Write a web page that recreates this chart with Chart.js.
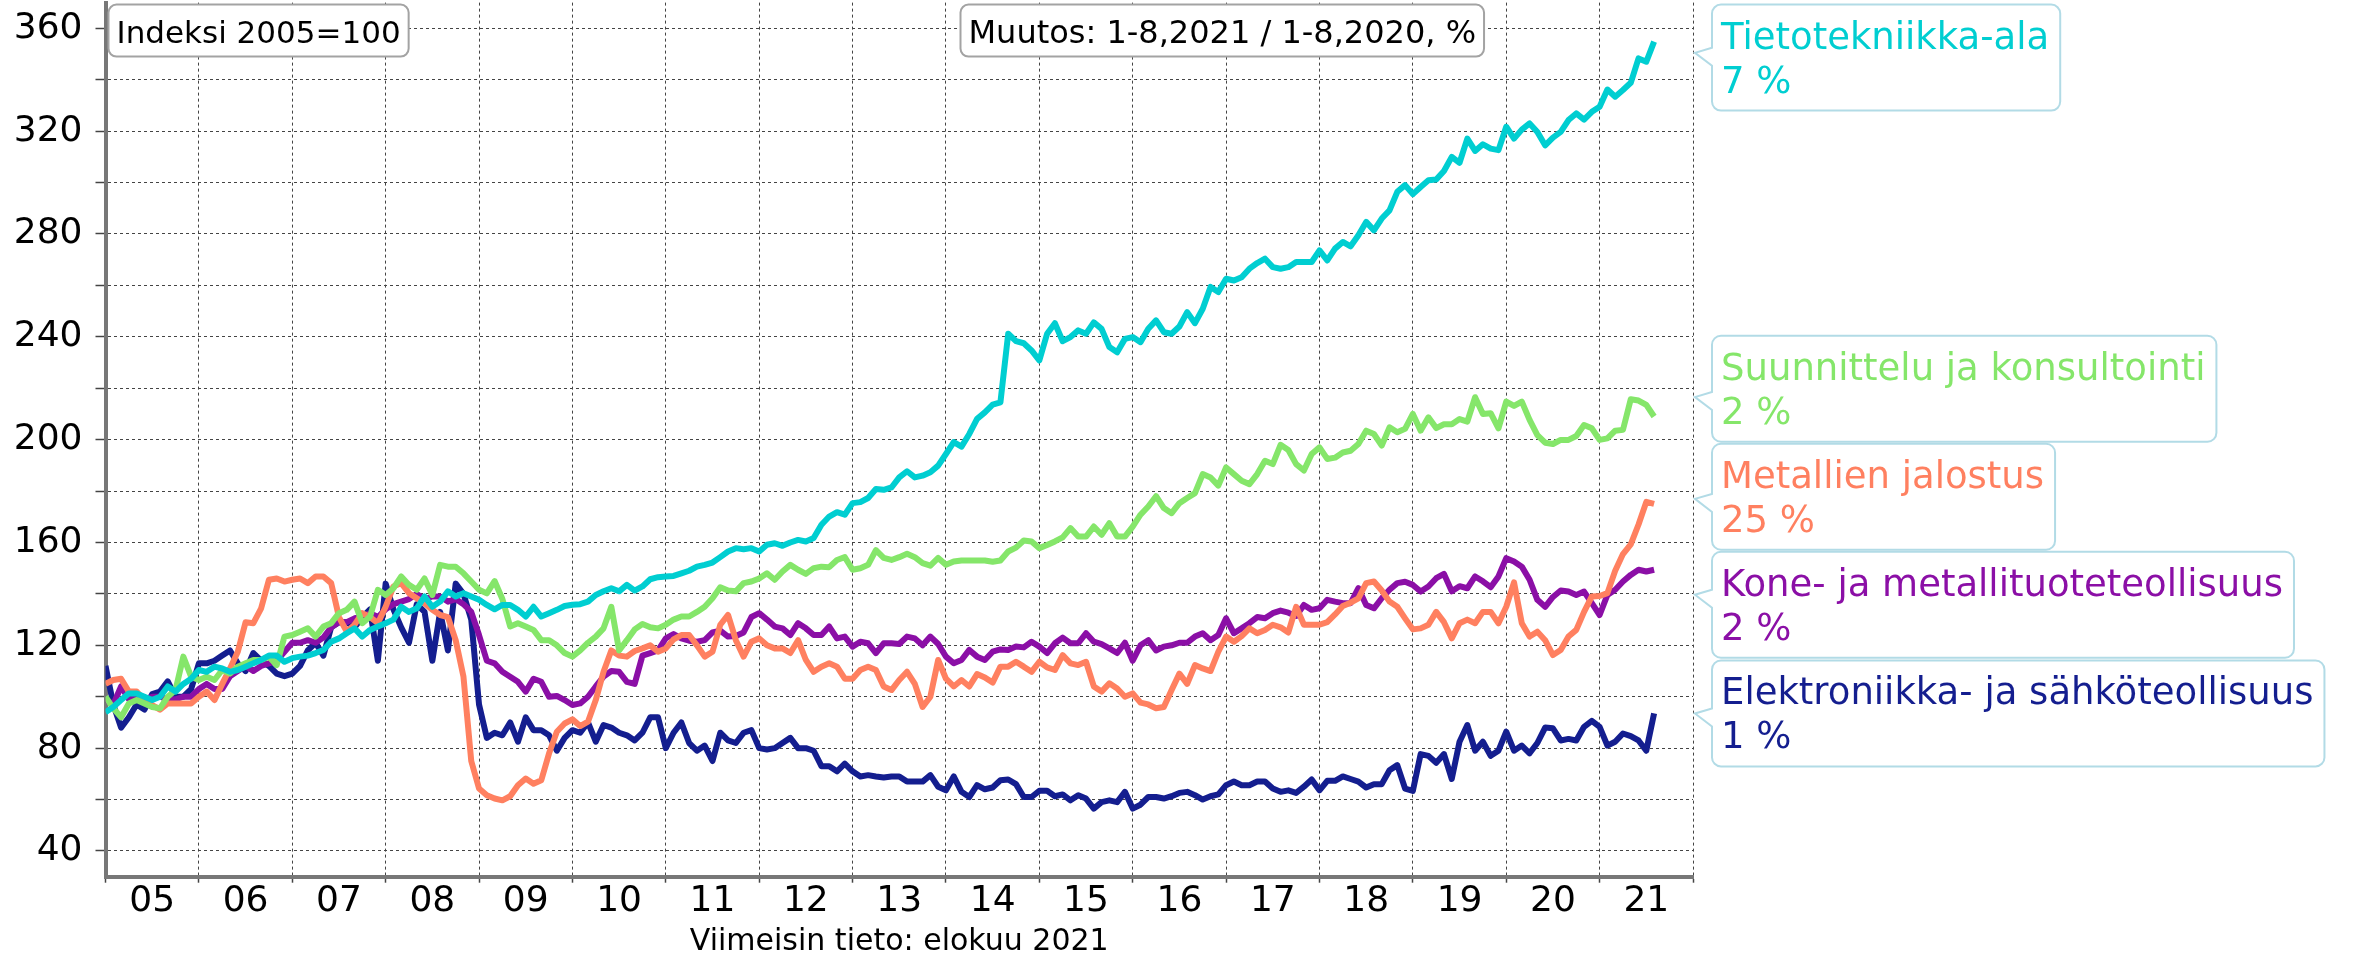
<!DOCTYPE html>
<html>
<head>
<meta charset="utf-8">
<title>Indeksi 2005=100</title>
<script src="https://cdn.jsdelivr.net/npm/chart.js@4.4.1/dist/chart.umd.min.js"></script>
<style>
    html, body { margin: 0; padding: 0; background: #fff; }
    canvas { display: block; }
</style>
</head>
<body>
<canvas id="indexChart" width="2356" height="957"></canvas>
<script>
const yearLabels = ["05", "06", "07", "08", "09", "10", "11", "12", "13", "14", "15", "16", "17", "18", "19", "20", "21"];
const seriesNames = [
    "Tietotekniikka-ala",
    "Suunnittelu ja konsultointi",
    "Metallien jalostus",
    "Kone- ja metallituoteteollisuus",
    "Elektroniikka- ja sähköteollisuus"
];
const seriesChanges = ["7 %", "2 %", "25 %", "2 %", "1 %"];
const indexNote = "Indeksi 2005=100";
const changeNote = "Muutos: 1-8,2021 / 1-8,2020, %";
const latestNote = "Viimeisin tieto: elokuu 2021";

// monthly values, Jan 2005 - Aug 2021
const tietotekniikka = [
    94, 96, 98.7, 101.3, 101.3, 100, 98.7, 100, 104, 102, 105, 107,
    110.4, 109.7, 111.7, 111, 109.7, 110.4, 111.7, 113, 114.3, 116, 116, 113.6,
    115, 115.6, 116, 117, 118.2, 121.4, 122.7, 124.7, 126.6, 123.4, 126, 127.3,
    128.6, 130, 135, 133, 134.4, 139, 135, 137, 141, 139, 140.3, 139,
    137.7, 135.7, 134, 135.7, 135.7, 133.8, 131.2, 135, 131.2, 132.5, 133.8, 135.3,
    135.8, 136, 137, 139.6, 141, 142.2, 141, 143.5, 141.3, 142.9, 145.7, 146.5,
    146.8, 147, 148, 149, 150.6, 151.3, 152.2, 154.3, 156.5, 157.8, 157.4, 157.8,
    156.5, 159.1, 159.7, 158.7, 160, 161, 160.4, 161.7, 166.9, 170.1, 171.8, 170.8,
    175.3, 175.7, 177.3, 180.8, 180.5, 181.4, 185.3, 187.7, 185.3, 186, 187.3, 189.9,
    194.4, 199, 197.3, 202.2, 208.1, 210.6, 213.6, 214.5, 241.2, 238.3, 237.5, 234.7,
    230.8, 241.2, 245.3, 238.3, 239.9, 242.5, 241.2, 245.6, 243.1, 236, 234, 239.2,
    239.9, 237.9, 243.1, 246.4, 241.8, 241.2, 244, 249.6, 245.3, 250.9, 259.4, 257.4,
    262.6, 261.9, 263.2, 266.5, 268.7, 270.4, 267.1, 266.5, 267.1, 269.1, 269.1, 269.1,
    273.6, 269.7, 274.3, 276.9, 275.2, 279.5, 284.7, 281.4, 286, 289.2, 296.4, 299,
    295.5, 298.3, 300.9, 301.2, 304.5, 310, 307.7, 317.1, 312.3, 314.9, 313.2, 312.6,
    321.7, 317.1, 320.6, 323, 319.7, 314.5, 317.5, 319.7, 324.3, 326.9, 324.5, 327.5,
    329.5, 336.2, 333.4, 336, 338.8, 348.3, 347, 354.8
];
const suunnittelu = [
    100, 95.5, 92, 97.4, 98.7, 97.4, 96, 95.5, 100, 102.6, 115.6, 107.8,
    106.5, 107.8, 106.5, 110.4, 109, 111.7, 113, 114.3, 114.3, 115.6, 112.3, 123.4,
    124, 125.3, 126.6, 123.4, 127.3, 128.6, 132.5, 133.8, 137, 128.6, 131.2, 141.6,
    139.6, 142.2, 146.8, 143.5, 141.6, 146, 139.6, 151.3, 150.6, 150.6, 148, 144.8,
    141.6, 140.2, 145, 138, 127.3, 128.6, 127.3, 126, 122, 122, 120, 117,
    115.6, 118, 121, 123.4, 126.6, 135, 118, 122, 126.2, 128.3, 127, 126.6,
    128, 130, 131.2, 131.2, 133, 135, 138.3, 142.6, 141.3, 141, 144.2, 144.8,
    146, 148, 145.5, 148.7, 151.3, 149.4, 147.8, 150, 150.6, 150.4, 153.2, 154.3,
    149.4, 150, 151.3, 157, 154, 153.2, 154.3, 155.6, 154.3, 152, 151, 154,
    151.3, 152.6, 153, 153, 153, 153, 152.5, 153, 156.5, 158, 160.8, 160.4,
    157.8, 159, 160.4, 162, 165.6, 162.3, 162.3, 166.2, 163, 167.5, 162.3, 162.3,
    166.2, 170.8, 174, 178, 173.4, 171.4, 175.3, 177.3, 179.2, 186.6, 185.3, 182.1,
    189.2, 186.6, 184, 182.7, 186.6, 191.8, 190.5, 198, 196, 190.5, 188, 194.4,
    197, 192.5, 193, 195, 195.7, 198.3, 203.5, 202.2, 197.7, 204.8, 202.9, 204.2,
    210, 203.5, 208.7, 204.5, 206, 206, 208, 207, 216.5, 210, 210.3, 204.4,
    214.8, 213.1, 214.8, 207.7, 201.8, 198.8, 198.3, 199.9, 199.9, 201.4, 205.7, 204.4,
    199.9, 200.5, 203.5, 203.8, 215.7, 215.2, 213.5, 209
];
const metallienJalostus = [
    105, 106.5, 107, 102, 102, 98.7, 96.8, 95, 97.4, 97.4, 97.4, 97.4,
    100, 102, 98.7, 105, 111, 117.5, 129, 128.6, 134.4, 145.5, 146, 144.8,
    145.5, 146, 144.2, 146.8, 146.8, 144.2, 131, 125.3, 128, 132.5, 131, 128.6,
    135, 142.9, 144.2, 140.3, 138.3, 136.4, 133.8, 131.8, 131, 122, 107.8, 75,
    64.3, 61.7, 60.4, 59.7, 61.3, 65.6, 68.2, 66.2, 67.5, 78, 86.4, 89.6,
    91.2, 88.6, 90.3, 98.7, 109.7, 118, 116, 115.6, 117.8, 118.8, 120, 117.5,
    118.8, 122.3, 124, 124, 120, 115.6, 117.5, 128, 131.8, 122, 115.6, 121.4,
    122.7, 120, 118.8, 118.8, 117, 122, 114.3, 109.7, 111.7, 113, 111.7, 107,
    107, 110.4, 111.7, 110.4, 104, 102.6, 106.5, 109.7, 105, 96, 100, 114.3,
    107, 104, 106.5, 104, 108.8, 107.5, 105.5, 111.7, 111.7, 113.6, 111.7, 109.7,
    113.6, 111.4, 110.4, 116.2, 113, 112.3, 113.6, 104, 102, 105.2, 103.2, 100,
    101.3, 97.7, 97, 95.5, 96, 102.6, 109, 105, 112.3, 111, 110, 117.5,
    123.4, 121.4, 123.6, 126.6, 124.7, 126, 128, 127, 125, 135, 128, 128,
    128, 129, 132, 135.3, 136.6, 138.3, 144.2, 144.8, 141.3, 137, 135, 130.5,
    126.2, 126.6, 128, 133, 129, 122.7, 128.6, 130, 128.6, 133, 133, 128.6,
    135, 144.5, 128.6, 123.4, 125.3, 122, 116.2, 118.2, 123.4, 126, 133, 139,
    139.2, 140.3, 149, 155.5, 159.3, 167, 175.8, 175
];
const koneJaMetalli = [
    99, 97, 104, 99, 100, 99, 100, 100, 99, 99, 100, 100,
    103, 105, 103, 103, 108, 110, 112, 110, 112, 113, 114, 117.5,
    121, 121, 122, 121, 123, 127, 129, 129, 130.5, 131, 132.5, 131,
    134, 136, 137, 138, 140, 138, 139, 139, 137, 138, 136, 133,
    124, 114, 113, 109.7, 107.8, 105.8, 102, 107, 105.8, 100, 100.3, 98.7,
    96.8, 97.4, 100, 104, 107.8, 110, 109.7, 105.8, 105, 116, 117, 118,
    122.7, 124.4, 122.7, 121.8, 121.4, 122, 125, 125.7, 123.4, 123.6, 125, 131,
    132.5, 130, 127.3, 126.6, 124, 128.6, 126.6, 124, 124, 127.3, 122.7, 123.4,
    119.5, 121.4, 120.8, 117, 120.8, 120.8, 120.5, 123.4, 122.7, 120, 123.4, 120.5,
    115.6, 113, 114.3, 118.2, 115.6, 114.3, 117.5, 118.4, 118.2, 119.5, 119.2, 121.4,
    119.5, 117, 120.8, 123, 120.8, 120.8, 124.7, 121.4, 120.5, 118.8, 117, 121,
    114, 120, 122, 118, 119.5, 120, 121, 121, 123.4, 124.7, 122, 124,
    130.5, 124.7, 126.6, 128.6, 131, 130.5, 132.5, 133.5, 132.7, 131.4, 135.7, 133.8,
    134.4, 137.7, 137, 136.4, 136.4, 142.2, 135.7, 134.4, 138.3, 141.6, 144.2, 144.7,
    143.5, 140.9, 142.9, 146.1, 147.8, 141, 143, 142.2, 146.8, 144.9, 142.6, 146.8,
    153.9, 152.6, 150.6, 145.5, 137.7, 135, 138.8, 141.3, 140.9, 139.6, 140.9, 136.4,
    131.8, 139.6, 141.6, 144.8, 147.4, 149.4, 148.7, 149.4
];
const elektroniikka = [
    112, 97, 88, 92, 97, 95, 101, 102, 106, 100, 100, 103,
    113, 113, 114, 116, 118, 113, 110, 117, 114, 112, 109, 108,
    109, 112, 118, 121, 116, 127, 129, 129, 127, 131, 134, 114,
    144, 134, 127, 121, 136, 133, 114, 133, 118, 144, 140, 130,
    97, 84, 86, 85, 90, 82.5, 92, 87, 87, 85, 79, 84,
    87, 86, 90, 82.5, 89, 88, 86, 85, 83, 86, 92, 92,
    80, 86, 90, 82, 79, 81, 75, 86, 83, 82, 86, 87,
    80, 79.5, 80, 82, 84, 80, 80, 79, 73, 73, 71, 74,
    71, 69, 69.5, 69, 68.6, 69, 69, 67, 67, 67, 69.5, 65,
    63.6, 69, 63, 61, 65.6, 64, 64.7, 67.5, 67.8, 66, 61, 61,
    63.4, 63.4, 61.3, 62, 59.7, 61.7, 60.4, 56.5, 59, 59.7, 59, 63,
    56.5, 58, 61, 61, 60.4, 61.3, 62.6, 63, 61.7, 60, 61.3, 62,
    65.6, 67, 65.6, 65.6, 67, 67, 64.3, 63, 63.6, 62.6, 65, 67.8,
    63.6, 67.3, 67.3, 69, 68, 67, 64.7, 66, 66, 71.4, 73.4, 64.3,
    63.4, 77.7, 77, 74.3, 77.7, 68, 82.5, 89, 79, 82.5, 77, 79,
    86.4, 79, 81, 78, 82, 88, 87.7, 83, 83.6, 83, 88.3, 90.6,
    88.3, 81, 82.5, 85.7, 84.7, 83, 79, 93.5
];

const seriesValues = [tietotekniikka, suunnittelu, metallienJalostus, koneJaMetalli, elektroniikka];
const seriesColors = ["#00CED1", "#85E66A", "#FF8060", "#8B0FA6", "#141E8F"];

const FONT = '"DejaVu Sans", Verdana, sans-serif';
Chart.defaults.font.family = FONT;
Chart.defaults.color = "#000";

function boxPath(ctx, x, y, w, h, r) {
    ctx.beginPath();
    ctx.moveTo(x + r, y);
    ctx.lineTo(x + w - r, y);
    ctx.arcTo(x + w, y, x + w, y + r, r);
    ctx.lineTo(x + w, y + h - r);
    ctx.arcTo(x + w, y + h, x + w - r, y + h, r);
    ctx.lineTo(x + r, y + h);
    ctx.arcTo(x, y + h, x, y + h - r, r);
    ctx.lineTo(x, y + r);
    ctx.arcTo(x, y, x + r, y, r);
    ctx.closePath();
}

function drawNote(ctx, text, left, top, size) {
    ctx.font = `${size}px ${FONT}`;
    const w = ctx.measureText(text).width + 16;
    boxPath(ctx, left, top, w, 52, 8);
    ctx.fillStyle = "#fff";
    ctx.fill();
    ctx.lineWidth = 2;
    ctx.strokeStyle = "#a3a3a3";
    ctx.stroke();
    ctx.fillStyle = "#000";
    ctx.textBaseline = "alphabetic";
    ctx.textAlign = "left";
    ctx.fillText(text, left + 8, top + 38);
}

// places the series labels next to the last values, pushing overlapping ones apart
function layoutCallouts(targets, boxH, pitch, minTop) {
    let clusters = targets
        .map((t, i) => ({ idx: [i], sum: t }))
        .sort((a, b) => a.sum - b.sum);
    const topOf = c => c.sum / c.idx.length - (c.idx.length - 1) * pitch / 2 - boxH / 2;
    let merged = true;
    while (merged) {
        merged = false;
        for (let k = 0; k < clusters.length - 1; k++) {
            const a = clusters[k], b = clusters[k + 1];
            const aBottom = Math.max(topOf(a), minTop) + (a.idx.length - 1) * pitch + boxH;
            if (aBottom + (pitch - boxH) > topOf(b)) {
                a.idx = a.idx.concat(b.idx);
                a.sum += b.sum;
                clusters.splice(k + 1, 1);
                merged = true;
                break;
            }
        }
    }
    const tops = [];
    for (const c of clusters) {
        const t0 = Math.max(topOf(c), minTop);
        c.idx.forEach((i, n) => { tops[i] = t0 + n * pitch; });
    }
    return tops;
}

const calloutPlugin = {
    id: "callouts",
    afterDraw(chart) {
        const ctx = chart.ctx;
        const area = chart.chartArea;
        const yScale = chart.scales.y;
        ctx.save();

        drawNote(ctx, indexNote, area.left + 3, area.top + 2, 31);
        drawNote(ctx, changeNote, area.left + 855, area.top + 2, 32);

        const boxH = 106, pitch = 108;
        const targets = seriesValues.map(v => yScale.getPixelForValue(v[v.length - 1]));
        const tops = layoutCallouts(targets, boxH, pitch, area.top + 2);
        const left = area.right + 19;

        seriesNames.forEach((name, i) => {
            const top = tops[i];
            ctx.font = `37px ${FONT}`;
            const w = Math.max(ctx.measureText(name).width, ctx.measureText(seriesChanges[i]).width) + 20;
            const center = top + boxH / 2;
            const py = center + Math.max(-10, Math.min(10, (targets[i] - center) * 0.3));
            const r = 9;
            ctx.beginPath();
            ctx.moveTo(left + r, top);
            ctx.lineTo(left + w - r, top);
            ctx.arcTo(left + w, top, left + w, top + r, r);
            ctx.lineTo(left + w, top + boxH - r);
            ctx.arcTo(left + w, top + boxH, left + w - r, top + boxH, r);
            ctx.lineTo(left + r, top + boxH);
            ctx.arcTo(left, top + boxH, left, top + boxH - r, r);
            ctx.lineTo(left, py + 13);
            ctx.lineTo(area.right + 2, py);
            ctx.lineTo(left, py - 5);
            ctx.lineTo(left, top + r);
            ctx.arcTo(left, top, left + r, top, r);
            ctx.closePath();
            ctx.fillStyle = "#fff";
            ctx.fill();
            ctx.lineWidth = 2;
            ctx.strokeStyle = "#b2dbe6";
            ctx.stroke();

            ctx.fillStyle = seriesColors[i];
            ctx.textAlign = "left";
            ctx.textBaseline = "alphabetic";
            ctx.fillText(name, left + 9, top + 44);
            ctx.fillText(seriesChanges[i], left + 9, top + 88);
        });
        ctx.restore();
    }
};

new Chart(document.getElementById("indexChart"), {
    type: "line",
    data: {
        datasets: seriesNames.map((name, i) => ({
            label: name,
            data: seriesValues[i].map((v, m) => ({ x: m, y: v })),
            borderColor: seriesColors[i],
            backgroundColor: seriesColors[i],
            borderWidth: 6,
            borderJoinStyle: "round",
            pointRadius: 0,
            tension: 0,
            fill: false
        }))
    },
    options: {
        responsive: false,
        animation: false,
        devicePixelRatio: 1,
        layout: { padding: { left: 0, top: 2.6, right: 663, bottom: 0 } },
        plugins: {
            legend: { display: false },
            tooltip: { enabled: false },
            title: { display: false }
        },
        scales: {
            x: {
                type: "linear",
                min: 0,
                max: 204,
                afterBuildTicks(scale) {
                    const ticks = [];
                    for (let m = 0; m <= 204; m += 6) ticks.push({ value: m });
                    scale.ticks = ticks;
                },
                afterFit(scale) {
                    scale.height = 80.3;
                    scale.paddingLeft = 0;
                    scale.paddingRight = 0;
                },
                ticks: {
                    autoSkip: false,
                    maxRotation: 0,
                    minRotation: 0,
                    padding: 1.3,
                    font: { size: 36, lineHeight: 1 },
                    callback: v => (v % 12 === 6 ? yearLabels[(v - 6) / 12] : "")
                },
                grid: {
                    color: c => (c.tick && c.tick.value % 12 === 0 ? "#444" : "rgba(0,0,0,0)"),
                    tickColor: c => (c.tick && c.tick.value % 12 === 0 ? "#444" : "rgba(0,0,0,0)"),
                    lineWidth: 1,
                    tickLength: 6,
                    tickWidth: 1.5
                },
                border: { display: true, color: "#777", width: 4, dash: [3, 3] },
                title: {
                    display: true,
                    text: latestNote,
                    color: "#000",
                    font: { size: 30, lineHeight: 1 },
                    padding: { top: 0, bottom: 0 }
                }
            },
            y: {
                min: 30,
                max: 370,
                afterBuildTicks(scale) {
                    const ticks = [];
                    for (let v = 40; v <= 360; v += 20) ticks.push({ value: v });
                    scale.ticks = ticks;
                },
                afterFit(scale) {
                    scale.width = 105.5;
                    scale.paddingTop = 0;
                    scale.paddingBottom = 0;
                },
                ticks: {
                    padding: 13,
                    font: { size: 36 },
                    callback: v => (v % 40 === 0 ? String(v) : "")
                },
                grid: {
                    color: "#444",
                    lineWidth: 1,
                    tickLength: 10,
                    tickColor: "#444",
                    tickWidth: 1.5
                },
                border: { display: true, color: "#777", width: 4, dash: [3, 3] }
            }
        }
    },
    plugins: [calloutPlugin]
});
</script>
</body>
</html>
